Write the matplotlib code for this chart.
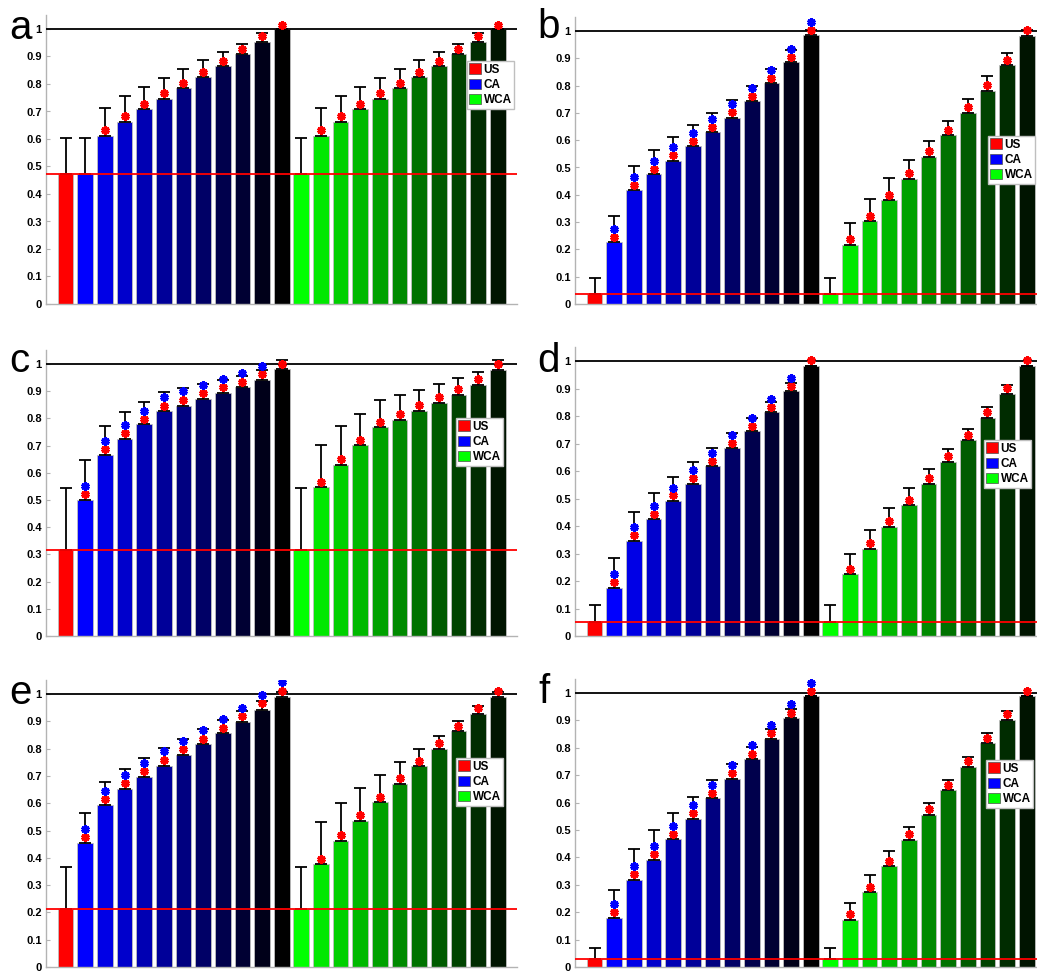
import matplotlib
matplotlib.use('Agg')
import matplotlib.pyplot as plt
from matplotlib.patches import Patch
import numpy as np

plt.rcParams['font.family'] = ['Liberation Sans', 'DejaVu Sans']

# bar order: US, CA x11, WCA x11 (first WCA bar = US value)
panel_labels = ['a', 'b', 'c', 'd', 'e', 'f']
legend_labels = ['US', 'CA', 'WCA']

bars_a = [0.471, 0.471, 0.611, 0.662, 0.708, 0.747, 0.786, 0.824, 0.866, 0.909, 0.953, 1.0,
          0.471, 0.611, 0.662, 0.708, 0.747, 0.786, 0.824, 0.866, 0.909, 0.953, 1.0]
err_a = [0.605, 0.605, 0.712, 0.757, 0.788, 0.821, 0.855, 0.889, 0.916, 0.946, 0.987, 1.0,
         0.605, 0.712, 0.757, 0.788, 0.821, 0.855, 0.889, 0.916, 0.946, 0.987, 1.0]
red_a = [np.nan, np.nan, 0.631, 0.683, 0.729, 0.768, 0.805, 0.844, 0.885, 0.929, 0.975, 1.016,
         np.nan, 0.631, 0.683, 0.729, 0.768, 0.805, 0.844, 0.885, 0.929, 0.975, 1.016]
blue_a = [np.nan] * 12

bars_b = [0.038, 0.227, 0.417, 0.475, 0.525, 0.579, 0.630, 0.683, 0.743, 0.808, 0.885, 0.984,
          0.038, 0.216, 0.305, 0.381, 0.459, 0.538, 0.619, 0.698, 0.782, 0.875, 0.983]
err_b = [0.095, 0.323, 0.504, 0.565, 0.613, 0.657, 0.699, 0.748, 0.799, 0.861, 0.931, 1.005,
         0.095, 0.296, 0.385, 0.460, 0.529, 0.597, 0.672, 0.750, 0.835, 0.920, 1.004]
red_b = [np.nan, 0.247, 0.437, 0.495, 0.546, 0.598, 0.650, 0.704, 0.761, 0.827, 0.905, 1.002,
         np.nan, 0.238, 0.324, 0.400, 0.480, 0.559, 0.638, 0.721, 0.802, 0.895, 1.002]
blue_b = [np.nan, 0.276, 0.466, 0.524, 0.575, 0.627, 0.679, 0.733, 0.790, 0.857, 0.935, 1.033]

bars_c = [0.317, 0.501, 0.665, 0.725, 0.778, 0.827, 0.847, 0.872, 0.894, 0.915, 0.941, 0.980,
          0.317, 0.547, 0.629, 0.702, 0.767, 0.795, 0.828, 0.858, 0.887, 0.924, 0.977]
err_c = [0.545, 0.648, 0.771, 0.823, 0.860, 0.897, 0.910, 0.928, 0.942, 0.957, 0.979, 1.013,
         0.545, 0.704, 0.771, 0.818, 0.866, 0.885, 0.903, 0.925, 0.947, 0.972, 1.013]
red_c = [np.nan, 0.523, 0.686, 0.746, 0.799, 0.847, 0.867, 0.892, 0.914, 0.935, 0.962, 1.001,
         np.nan, 0.566, 0.650, 0.721, 0.788, 0.816, 0.848, 0.877, 0.908, 0.945, 0.999]
blue_c = [np.nan, 0.552, 0.717, 0.777, 0.829, 0.877, 0.899, 0.923, 0.944, 0.966, 0.993, np.nan]

bars_d = [0.050, 0.176, 0.347, 0.425, 0.490, 0.554, 0.617, 0.682, 0.745, 0.814, 0.890, 0.983,
          0.050, 0.224, 0.315, 0.396, 0.476, 0.554, 0.631, 0.712, 0.794, 0.881, 0.983]
err_d = [0.113, 0.282, 0.452, 0.521, 0.579, 0.632, 0.684, 0.738, 0.794, 0.851, 0.921, 0.983,
         0.113, 0.300, 0.387, 0.464, 0.538, 0.608, 0.680, 0.754, 0.832, 0.914, 0.983]
red_d = [np.nan, 0.196, 0.368, 0.444, 0.511, 0.575, 0.638, 0.701, 0.765, 0.833, 0.909, 1.002,
         np.nan, 0.245, 0.337, 0.418, 0.496, 0.575, 0.653, 0.732, 0.815, 0.902, 1.002]
blue_d = [np.nan, 0.226, 0.398, 0.473, 0.540, 0.604, 0.667, 0.730, 0.794, 0.862, 0.939, np.nan]

bars_e = [0.212, 0.454, 0.593, 0.652, 0.697, 0.737, 0.778, 0.817, 0.857, 0.899, 0.943, 0.990,
          0.212, 0.376, 0.463, 0.536, 0.604, 0.672, 0.735, 0.800, 0.863, 0.927, 0.990]
err_e = [0.366, 0.565, 0.679, 0.725, 0.766, 0.802, 0.836, 0.872, 0.906, 0.939, 0.976, 1.007,
         0.366, 0.531, 0.600, 0.656, 0.705, 0.752, 0.799, 0.847, 0.901, 0.957, 1.007]
red_e = [np.nan, 0.476, 0.615, 0.673, 0.719, 0.759, 0.797, 0.836, 0.877, 0.919, 0.966, 1.012,
         np.nan, 0.396, 0.485, 0.557, 0.624, 0.691, 0.756, 0.819, 0.884, 0.947, 1.011]
blue_e = [np.nan, 0.505, 0.645, 0.703, 0.748, 0.790, 0.828, 0.867, 0.907, 0.949, 0.995, 1.043]

bars_f = [0.029, 0.180, 0.319, 0.392, 0.467, 0.540, 0.615, 0.687, 0.759, 0.832, 0.909, 0.988,
          0.029, 0.172, 0.273, 0.367, 0.462, 0.555, 0.645, 0.731, 0.816, 0.901, 0.988]
err_f = [0.071, 0.282, 0.432, 0.501, 0.562, 0.622, 0.681, 0.741, 0.803, 0.869, 0.942, 0.988,
         0.071, 0.234, 0.335, 0.423, 0.512, 0.597, 0.684, 0.768, 0.853, 0.936, 0.988]
red_f = [np.nan, 0.201, 0.339, 0.412, 0.487, 0.561, 0.634, 0.707, 0.779, 0.853, 0.928, 1.009,
         np.nan, 0.192, 0.292, 0.388, 0.484, 0.575, 0.665, 0.753, 0.837, 0.923, 1.009]
blue_f = [np.nan, 0.230, 0.369, 0.443, 0.516, 0.590, 0.664, 0.737, 0.809, 0.883, 0.959, 1.038]

panels = [
    (bars_a, err_a, red_a, blue_a),
    (bars_b, err_b, red_b, blue_b),
    (bars_c, err_c, red_c, blue_c),
    (bars_d, err_d, red_d, blue_d),
    (bars_e, err_e, red_e, blue_e),
    (bars_f, err_f, red_f, blue_f),
]

W, H = 1037, 972
fig = plt.figure(figsize=(W / 100, H / 100), dpi=100)

# axes boxes in pixels: left, y of zero line, pixels per unit
boxes = [(46, 304, 275), (575, 304, 273), (46, 636, 272),
         (575, 636, 275), (46, 967, 273), (575, 967, 274)]
legend_pos = [(467, 61), (988, 136), (456, 418), (984, 440), (456, 758), (986, 760)]
letter_pos = [(9, 39), (537, 38), (9, 372), (537, 372), (9, 704), (538, 703)]

blues = [(0, 0, b) for b in np.linspace(1, 0, 11)]
greens = [(0, g, 0) for g in np.linspace(1, 0.08, 11)]
colors = [(1, 0, 0)] + blues + greens
x = np.arange(1, 24)

for i, (bars, err, red, blue) in enumerate(panels):
    left, y0, ppu = boxes[i]
    ax = fig.add_axes([left / W, 1 - y0 / H, 24 * 19.64 / W, 1.05 * ppu / H])
    bars = np.array(bars)
    err = np.array(err)
    ax.bar(x, bars, width=0.8, color=colors, edgecolor='0.75', linewidth=0.6, zorder=2)
    ax.errorbar(x, bars, yerr=[np.zeros_like(bars), np.maximum(err - bars, 0)],
                fmt='none', ecolor='black', elinewidth=1.3, capsize=4, capthick=1.3, zorder=3)
    ax.axhline(1, color='black', lw=1.3, zorder=4)
    ax.axhline(bars[0], color='red', lw=1.3, zorder=4)
    ax.plot(x, red, ls='none', marker=(6, 2, 0), ms=6, mew=2.2, color='red', zorder=5)
    ax.plot(x[:len(blue)], blue, ls='none', marker=(6, 2, 0), ms=6, mew=2.2, color='blue', zorder=5)

    ax.set_xlim(0, 24)
    ax.set_ylim(0, 1.05)
    ax.set_xticks([])
    ax.set_yticks(np.arange(0, 1.01, 0.1))
    ax.set_yticklabels(['0'] + ['%.1f' % v for v in np.arange(0.1, 0.95, 0.1)] + ['1'],
                       fontsize=8, fontweight='bold')
    ax.tick_params(axis='y', direction='in', length=3, color='0.7', pad=3)
    for s in ['top', 'right']:
        ax.spines[s].set_visible(False)
    for s in ['left', 'bottom']:
        ax.spines[s].set_color('0.7')
        ax.spines[s].set_linewidth(1)

    handles = [Patch(facecolor=c, edgecolor='0.3', linewidth=0.5)
               for c in [(1, 0, 0), (0, 0, 1), (0, 1, 0)]]
    lx, ly = legend_pos[i]
    leg = ax.legend(handles, legend_labels, loc='upper left',
                    bbox_to_anchor=(lx / W, 1 - ly / H), bbox_transform=fig.transFigure,
                    prop={'weight': 'bold', 'size': 8.5}, handlelength=1.0, handleheight=1.0,
                    handletextpad=0.2, labelspacing=0.25, borderpad=0.2,
                    borderaxespad=0, fancybox=False, framealpha=1, edgecolor='0.75')
    leg.get_frame().set_linewidth(1)
    leg.set_zorder(10)

    tx, ty = letter_pos[i]
    fig.text(tx / W, 1 - ty / H, panel_labels[i], fontsize=29, va='baseline', ha='left')

fig.savefig('out.png', dpi=100)
